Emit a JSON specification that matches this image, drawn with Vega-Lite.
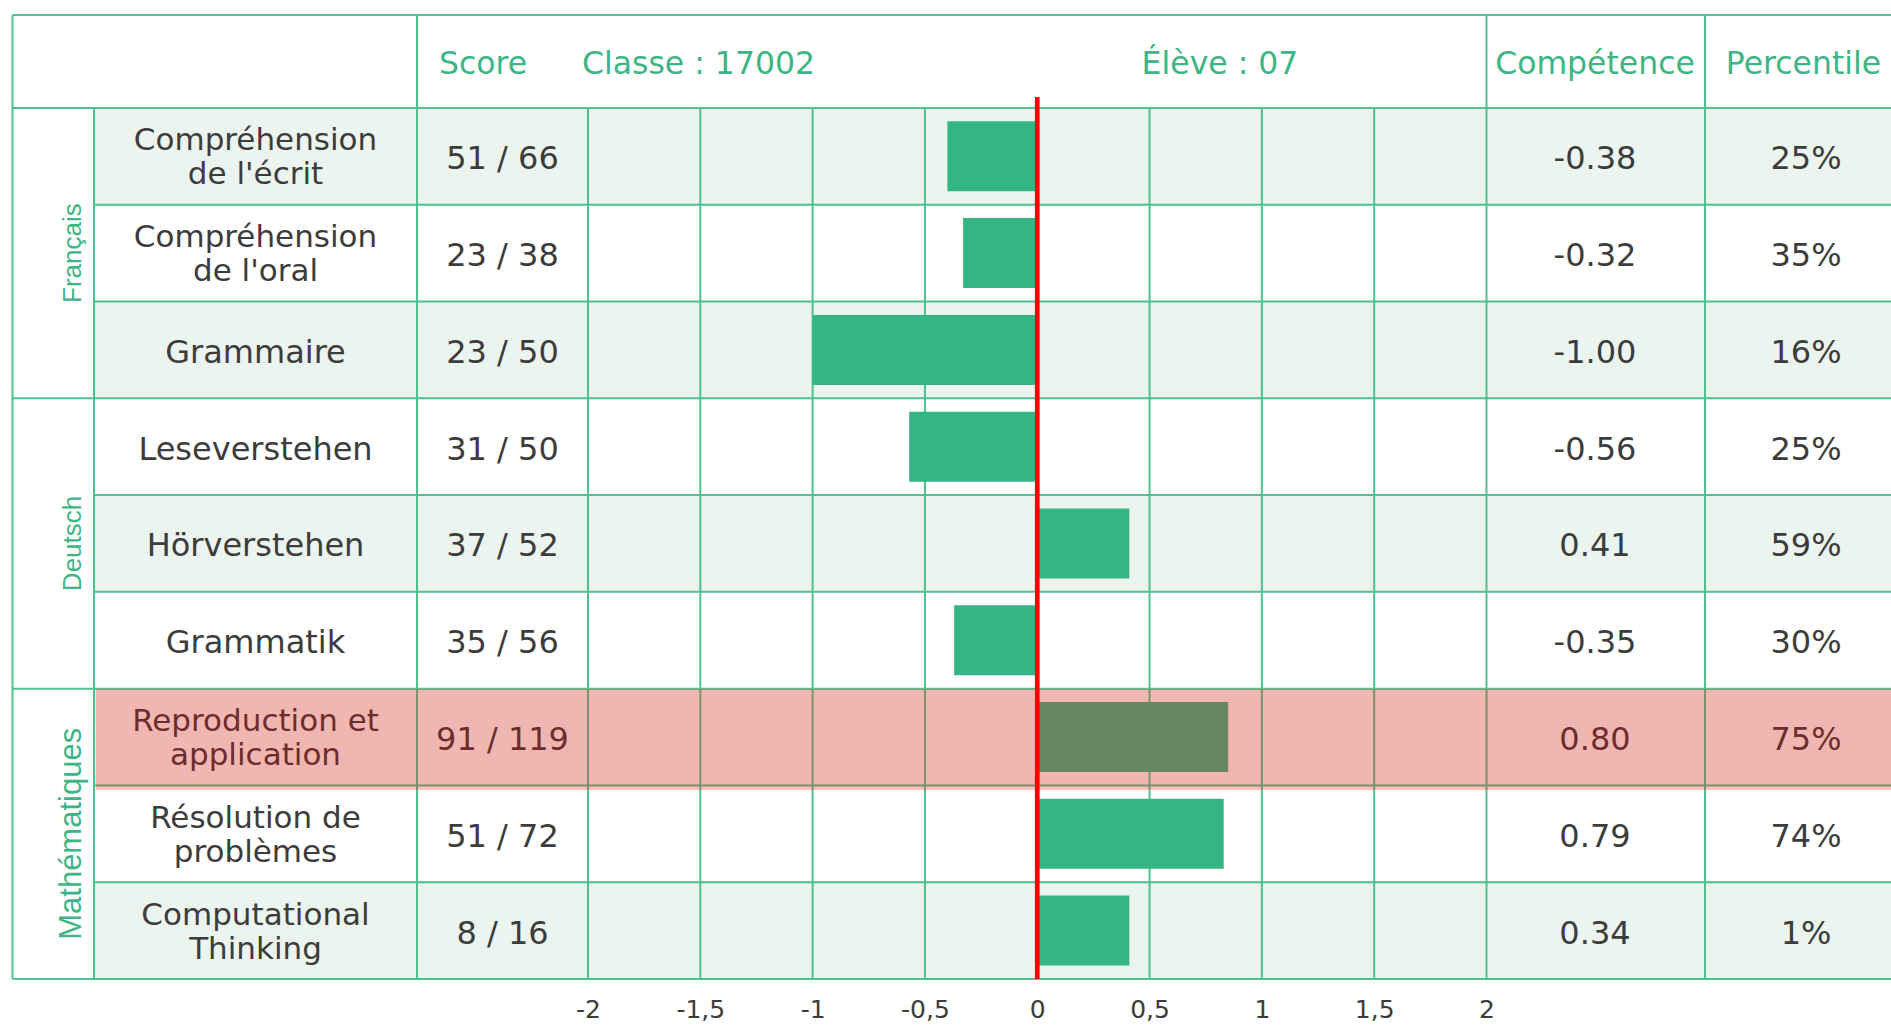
{
  "$schema": "https://vega.github.io/schema/vega-lite/v6.json",
  "width": 1891,
  "height": 984,
  "autosize": {"type": "none"},
  "padding": {"left": 0, "top": 0, "right": 0, "bottom": 41},
  "background": "white",
  "config": {"view": {"stroke": null}},
  "datasets": {
    "rows": [
      {"r": 1, "group": "Français", "label": "Compréhension\nde l'écrit", "score": "51 / 66", "bar": -0.40, "comp": "-0.38", "pct": "25%"},
      {"r": 2, "group": "Français", "label": "Compréhension\nde l'oral", "score": "23 / 38", "bar": -0.33, "comp": "-0.32", "pct": "35%"},
      {"r": 3, "group": "Français", "label": "Grammaire", "score": "23 / 50", "bar": -1.00, "comp": "-1.00", "pct": "16%"},
      {"r": 4, "group": "Deutsch", "label": "Leseverstehen", "score": "31 / 50", "bar": -0.57, "comp": "-0.56", "pct": "25%"},
      {"r": 5, "group": "Deutsch", "label": "Hörverstehen", "score": "37 / 52", "bar": 0.41, "comp": "0.41", "pct": "59%"},
      {"r": 6, "group": "Deutsch", "label": "Grammatik", "score": "35 / 56", "bar": -0.37, "comp": "-0.35", "pct": "30%"},
      {"r": 7, "group": "Mathématiques", "label": "Reproduction et\napplication", "score": "91 / 119", "bar": 0.85, "comp": "0.80", "pct": "75%"},
      {"r": 8, "group": "Mathématiques", "label": "Résolution de\nproblèmes", "score": "51 / 72", "bar": 0.83, "comp": "0.79", "pct": "74%"},
      {"r": 9, "group": "Mathématiques", "label": "Computational\nThinking", "score": "8 / 16", "bar": 0.41, "comp": "0.34", "pct": "1%"}
    ],
    "vfull": [{"x": -4.5621}, {"x": -2.7613}, {"x": 2}, {"x": 2.9727}],
    "vbody": [{"x": -4.1992}, {"x": -2}, {"x": -1.5}, {"x": -1}, {"x": -0.5}, {"x": 0}, {"x": 0.5}, {"x": 1}, {"x": 1.5}],
    "hfull": [{"y": -0.4611}, {"y": 0.5}, {"y": 3.5}, {"y": 6.5}, {"y": 9.5}],
    "hbody": [{"y": 1.5}, {"y": 2.5}, {"y": 4.5}, {"y": 5.5}, {"y": 7.5}, {"y": 8.5}],
    "one": [{}]
  },
  "layer": [
    {
      "data": {"name": "rows"},
      "transform": [{"filter": "datum.r % 2 == 1"}],
      "mark": {"type": "bar", "orient": "horizontal", "size": 97.8, "color": "#ebf4ee"},
      "encoding": {
        "x": {"datum": -4.1992, "type": "quantitative", "scale": {"type": "linear", "domain": [-4.6177, 3.8008], "nice": false, "zero": false}, "axis": {"values": [-2, -1.5, -1, -0.5, 0, 0.5, 1, 1.5, 2], "labelExpr": "(datum.value < 0 ? '-' : '') + replace(toString(abs(datum.value)), '.', ',')", "domain": false, "ticks": false, "tickSize": 0, "grid": false, "labelPadding": 33, "labelBaseline": "alphabetic", "labelFont": "DejaVu Sans", "labelFontSize": 25, "labelColor": "#3c3c3c", "title": null, "labelFlush": false, "labelOverlap": false}},
        "x2": {"datum": 3.8008},
        "y": {"field": "r", "type": "quantitative", "scale": {"type": "linear", "domain": [-0.5634, 9.5], "nice": false, "zero": false, "reverse": true}, "axis": null}
      }
    },
    {
      "data": {"name": "vfull"},
      "mark": {"type": "rule", "color": "#4fc08f", "strokeWidth": 2},
      "encoding": {
        "x": {"field": "x", "type": "quantitative", "scale": {"type": "linear", "domain": [-4.6177, 3.8008], "nice": false, "zero": false}, "axis": {"values": [-2, -1.5, -1, -0.5, 0, 0.5, 1, 1.5, 2], "labelExpr": "(datum.value < 0 ? '-' : '') + replace(toString(abs(datum.value)), '.', ',')", "domain": false, "ticks": false, "tickSize": 0, "grid": false, "labelPadding": 33, "labelBaseline": "alphabetic", "labelFont": "DejaVu Sans", "labelFontSize": 25, "labelColor": "#3c3c3c", "title": null, "labelFlush": false, "labelOverlap": false}},
        "y": {"datum": -0.4611, "type": "quantitative", "scale": {"type": "linear", "domain": [-0.5634, 9.5], "nice": false, "zero": false, "reverse": true}, "axis": null},
        "y2": {"datum": 9.5}
      }
    },
    {
      "data": {"name": "vbody"},
      "mark": {"type": "rule", "color": "#4fc08f", "strokeWidth": 2},
      "encoding": {
        "x": {"field": "x", "type": "quantitative", "scale": {"type": "linear", "domain": [-4.6177, 3.8008], "nice": false, "zero": false}, "axis": {"values": [-2, -1.5, -1, -0.5, 0, 0.5, 1, 1.5, 2], "labelExpr": "(datum.value < 0 ? '-' : '') + replace(toString(abs(datum.value)), '.', ',')", "domain": false, "ticks": false, "tickSize": 0, "grid": false, "labelPadding": 33, "labelBaseline": "alphabetic", "labelFont": "DejaVu Sans", "labelFontSize": 25, "labelColor": "#3c3c3c", "title": null, "labelFlush": false, "labelOverlap": false}},
        "y": {"datum": 0.5, "type": "quantitative", "scale": {"type": "linear", "domain": [-0.5634, 9.5], "nice": false, "zero": false, "reverse": true}, "axis": null},
        "y2": {"datum": 9.5}
      }
    },
    {
      "data": {"name": "hfull"},
      "mark": {"type": "rule", "color": "#4fc08f", "strokeWidth": 2},
      "encoding": {
        "y": {"field": "y", "type": "quantitative", "scale": {"type": "linear", "domain": [-0.5634, 9.5], "nice": false, "zero": false, "reverse": true}, "axis": null},
        "x": {"datum": -4.5621, "type": "quantitative", "scale": {"type": "linear", "domain": [-4.6177, 3.8008], "nice": false, "zero": false}, "axis": {"values": [-2, -1.5, -1, -0.5, 0, 0.5, 1, 1.5, 2], "labelExpr": "(datum.value < 0 ? '-' : '') + replace(toString(abs(datum.value)), '.', ',')", "domain": false, "ticks": false, "tickSize": 0, "grid": false, "labelPadding": 33, "labelBaseline": "alphabetic", "labelFont": "DejaVu Sans", "labelFontSize": 25, "labelColor": "#3c3c3c", "title": null, "labelFlush": false, "labelOverlap": false}},
        "x2": {"datum": 3.8008}
      }
    },
    {
      "data": {"name": "hbody"},
      "mark": {"type": "rule", "color": "#4fc08f", "strokeWidth": 2},
      "encoding": {
        "y": {"field": "y", "type": "quantitative", "scale": {"type": "linear", "domain": [-0.5634, 9.5], "nice": false, "zero": false, "reverse": true}, "axis": null},
        "x": {"datum": -4.1992, "type": "quantitative", "scale": {"type": "linear", "domain": [-4.6177, 3.8008], "nice": false, "zero": false}, "axis": {"values": [-2, -1.5, -1, -0.5, 0, 0.5, 1, 1.5, 2], "labelExpr": "(datum.value < 0 ? '-' : '') + replace(toString(abs(datum.value)), '.', ',')", "domain": false, "ticks": false, "tickSize": 0, "grid": false, "labelPadding": 33, "labelBaseline": "alphabetic", "labelFont": "DejaVu Sans", "labelFontSize": 25, "labelColor": "#3c3c3c", "title": null, "labelFlush": false, "labelOverlap": false}},
        "x2": {"datum": 3.8008}
      }
    },
    {
      "data": {"name": "rows"},
      "mark": {"type": "bar", "orient": "horizontal", "size": 70, "color": "#34b584"},
      "encoding": {
        "x": {"field": "bar", "type": "quantitative", "scale": {"type": "linear", "domain": [-4.6177, 3.8008], "nice": false, "zero": false}, "axis": {"values": [-2, -1.5, -1, -0.5, 0, 0.5, 1, 1.5, 2], "labelExpr": "(datum.value < 0 ? '-' : '') + replace(toString(abs(datum.value)), '.', ',')", "domain": false, "ticks": false, "tickSize": 0, "grid": false, "labelPadding": 33, "labelBaseline": "alphabetic", "labelFont": "DejaVu Sans", "labelFontSize": 25, "labelColor": "#3c3c3c", "title": null, "labelFlush": false, "labelOverlap": false}},
        "x2": {"datum": 0},
        "y": {"field": "r", "type": "quantitative", "scale": {"type": "linear", "domain": [-0.5634, 9.5], "nice": false, "zero": false, "reverse": true}, "axis": null}
      }
    },
    {
      "data": {"name": "rows"},
      "transform": [{"filter": "indexof(datum.label, '\\n') < 0"}],
      "mark": {"type": "text", "font": "DejaVu Sans", "fontSize": 32, "color": "#3c3c3c", "align": "center", "baseline": "middle", "dy": 3},
      "encoding": {
        "x": {"datum": -3.4802, "type": "quantitative", "scale": {"type": "linear", "domain": [-4.6177, 3.8008], "nice": false, "zero": false}, "axis": {"values": [-2, -1.5, -1, -0.5, 0, 0.5, 1, 1.5, 2], "labelExpr": "(datum.value < 0 ? '-' : '') + replace(toString(abs(datum.value)), '.', ',')", "domain": false, "ticks": false, "tickSize": 0, "grid": false, "labelPadding": 33, "labelBaseline": "alphabetic", "labelFont": "DejaVu Sans", "labelFontSize": 25, "labelColor": "#3c3c3c", "title": null, "labelFlush": false, "labelOverlap": false}},
        "y": {"field": "r", "type": "quantitative", "scale": {"type": "linear", "domain": [-0.5634, 9.5], "nice": false, "zero": false, "reverse": true}, "axis": null},
        "text": {"field": "label"}
      }
    },
    {
      "data": {"name": "rows"},
      "transform": [{"filter": "indexof(datum.label, '\\n') >= 0"}],
      "mark": {"type": "text", "font": "DejaVu Sans", "fontSize": 31, "color": "#3c3c3c", "align": "center", "baseline": "middle", "lineBreak": "\n", "lineHeight": 34, "dy": -15},
      "encoding": {
        "x": {"datum": -3.4802, "type": "quantitative", "scale": {"type": "linear", "domain": [-4.6177, 3.8008], "nice": false, "zero": false}, "axis": {"values": [-2, -1.5, -1, -0.5, 0, 0.5, 1, 1.5, 2], "labelExpr": "(datum.value < 0 ? '-' : '') + replace(toString(abs(datum.value)), '.', ',')", "domain": false, "ticks": false, "tickSize": 0, "grid": false, "labelPadding": 33, "labelBaseline": "alphabetic", "labelFont": "DejaVu Sans", "labelFontSize": 25, "labelColor": "#3c3c3c", "title": null, "labelFlush": false, "labelOverlap": false}},
        "y": {"field": "r", "type": "quantitative", "scale": {"type": "linear", "domain": [-0.5634, 9.5], "nice": false, "zero": false, "reverse": true}, "axis": null},
        "text": {"field": "label"}
      }
    },
    {
      "data": {"name": "rows"},
      "mark": {"type": "text", "font": "DejaVu Sans", "fontSize": 32, "color": "#3c3c3c", "align": "center", "baseline": "middle", "dy": 3},
      "encoding": {
        "x": {"datum": -2.3806, "type": "quantitative", "scale": {"type": "linear", "domain": [-4.6177, 3.8008], "nice": false, "zero": false}, "axis": {"values": [-2, -1.5, -1, -0.5, 0, 0.5, 1, 1.5, 2], "labelExpr": "(datum.value < 0 ? '-' : '') + replace(toString(abs(datum.value)), '.', ',')", "domain": false, "ticks": false, "tickSize": 0, "grid": false, "labelPadding": 33, "labelBaseline": "alphabetic", "labelFont": "DejaVu Sans", "labelFontSize": 25, "labelColor": "#3c3c3c", "title": null, "labelFlush": false, "labelOverlap": false}},
        "y": {"field": "r", "type": "quantitative", "scale": {"type": "linear", "domain": [-0.5634, 9.5], "nice": false, "zero": false, "reverse": true}, "axis": null},
        "text": {"field": "score"}
      }
    },
    {
      "data": {"name": "rows"},
      "mark": {"type": "text", "font": "DejaVu Sans", "fontSize": 32, "color": "#3c3c3c", "align": "center", "baseline": "middle", "dy": 3},
      "encoding": {
        "x": {"datum": 2.483, "type": "quantitative", "scale": {"type": "linear", "domain": [-4.6177, 3.8008], "nice": false, "zero": false}, "axis": {"values": [-2, -1.5, -1, -0.5, 0, 0.5, 1, 1.5, 2], "labelExpr": "(datum.value < 0 ? '-' : '') + replace(toString(abs(datum.value)), '.', ',')", "domain": false, "ticks": false, "tickSize": 0, "grid": false, "labelPadding": 33, "labelBaseline": "alphabetic", "labelFont": "DejaVu Sans", "labelFontSize": 25, "labelColor": "#3c3c3c", "title": null, "labelFlush": false, "labelOverlap": false}},
        "y": {"field": "r", "type": "quantitative", "scale": {"type": "linear", "domain": [-0.5634, 9.5], "nice": false, "zero": false, "reverse": true}, "axis": null},
        "text": {"field": "comp"}
      }
    },
    {
      "data": {"name": "rows"},
      "mark": {"type": "text", "font": "DejaVu Sans", "fontSize": 32, "color": "#3c3c3c", "align": "center", "baseline": "middle", "dy": 3},
      "encoding": {
        "x": {"datum": 3.4224, "type": "quantitative", "scale": {"type": "linear", "domain": [-4.6177, 3.8008], "nice": false, "zero": false}, "axis": {"values": [-2, -1.5, -1, -0.5, 0, 0.5, 1, 1.5, 2], "labelExpr": "(datum.value < 0 ? '-' : '') + replace(toString(abs(datum.value)), '.', ',')", "domain": false, "ticks": false, "tickSize": 0, "grid": false, "labelPadding": 33, "labelBaseline": "alphabetic", "labelFont": "DejaVu Sans", "labelFontSize": 25, "labelColor": "#3c3c3c", "title": null, "labelFlush": false, "labelOverlap": false}},
        "y": {"field": "r", "type": "quantitative", "scale": {"type": "linear", "domain": [-0.5634, 9.5], "nice": false, "zero": false, "reverse": true}, "axis": null},
        "text": {"field": "pct"}
      }
    },
    {
      "data": {"name": "one"},
      "mark": {"type": "text", "text": "Score", "font": "DejaVu Sans", "fontSize": 31.5, "color": "#3db584", "align": "center", "baseline": "middle"},
      "encoding": {
        "x": {"datum": -2.4674, "type": "quantitative", "scale": {"type": "linear", "domain": [-4.6177, 3.8008], "nice": false, "zero": false}, "axis": {"values": [-2, -1.5, -1, -0.5, 0, 0.5, 1, 1.5, 2], "labelExpr": "(datum.value < 0 ? '-' : '') + replace(toString(abs(datum.value)), '.', ',')", "domain": false, "ticks": false, "tickSize": 0, "grid": false, "labelPadding": 33, "labelBaseline": "alphabetic", "labelFont": "DejaVu Sans", "labelFontSize": 25, "labelColor": "#3c3c3c", "title": null, "labelFlush": false, "labelOverlap": false}},
        "y": {"datum": 0.0574, "type": "quantitative", "scale": {"type": "linear", "domain": [-0.5634, 9.5], "nice": false, "zero": false, "reverse": true}, "axis": null}
      }
    },
    {
      "data": {"name": "one"},
      "mark": {"type": "text", "text": "Classe : 17002", "font": "DejaVu Sans", "fontSize": 31.5, "color": "#3db584", "align": "center", "baseline": "middle"},
      "encoding": {
        "x": {"datum": -1.5081, "type": "quantitative", "scale": {"type": "linear", "domain": [-4.6177, 3.8008], "nice": false, "zero": false}, "axis": {"values": [-2, -1.5, -1, -0.5, 0, 0.5, 1, 1.5, 2], "labelExpr": "(datum.value < 0 ? '-' : '') + replace(toString(abs(datum.value)), '.', ',')", "domain": false, "ticks": false, "tickSize": 0, "grid": false, "labelPadding": 33, "labelBaseline": "alphabetic", "labelFont": "DejaVu Sans", "labelFontSize": 25, "labelColor": "#3c3c3c", "title": null, "labelFlush": false, "labelOverlap": false}},
        "y": {"datum": 0.0574, "type": "quantitative", "scale": {"type": "linear", "domain": [-0.5634, 9.5], "nice": false, "zero": false, "reverse": true}, "axis": null}
      }
    },
    {
      "data": {"name": "one"},
      "mark": {"type": "text", "text": "Élève : 07", "font": "DejaVu Sans", "fontSize": 31.5, "color": "#3db584", "align": "center", "baseline": "middle"},
      "encoding": {
        "x": {"datum": 0.8136, "type": "quantitative", "scale": {"type": "linear", "domain": [-4.6177, 3.8008], "nice": false, "zero": false}, "axis": {"values": [-2, -1.5, -1, -0.5, 0, 0.5, 1, 1.5, 2], "labelExpr": "(datum.value < 0 ? '-' : '') + replace(toString(abs(datum.value)), '.', ',')", "domain": false, "ticks": false, "tickSize": 0, "grid": false, "labelPadding": 33, "labelBaseline": "alphabetic", "labelFont": "DejaVu Sans", "labelFontSize": 25, "labelColor": "#3c3c3c", "title": null, "labelFlush": false, "labelOverlap": false}},
        "y": {"datum": 0.0574, "type": "quantitative", "scale": {"type": "linear", "domain": [-0.5634, 9.5], "nice": false, "zero": false, "reverse": true}, "axis": null}
      }
    },
    {
      "data": {"name": "one"},
      "mark": {"type": "text", "text": "Compétence", "font": "DejaVu Sans", "fontSize": 31.5, "color": "#3db584", "align": "center", "baseline": "middle"},
      "encoding": {
        "x": {"datum": 2.483, "type": "quantitative", "scale": {"type": "linear", "domain": [-4.6177, 3.8008], "nice": false, "zero": false}, "axis": {"values": [-2, -1.5, -1, -0.5, 0, 0.5, 1, 1.5, 2], "labelExpr": "(datum.value < 0 ? '-' : '') + replace(toString(abs(datum.value)), '.', ',')", "domain": false, "ticks": false, "tickSize": 0, "grid": false, "labelPadding": 33, "labelBaseline": "alphabetic", "labelFont": "DejaVu Sans", "labelFontSize": 25, "labelColor": "#3c3c3c", "title": null, "labelFlush": false, "labelOverlap": false}},
        "y": {"datum": 0.0574, "type": "quantitative", "scale": {"type": "linear", "domain": [-0.5634, 9.5], "nice": false, "zero": false, "reverse": true}, "axis": null}
      }
    },
    {
      "data": {"name": "one"},
      "mark": {"type": "text", "text": "Percentile", "font": "DejaVu Sans", "fontSize": 31.5, "color": "#3db584", "align": "center", "baseline": "middle"},
      "encoding": {
        "x": {"datum": 3.4112, "type": "quantitative", "scale": {"type": "linear", "domain": [-4.6177, 3.8008], "nice": false, "zero": false}, "axis": {"values": [-2, -1.5, -1, -0.5, 0, 0.5, 1, 1.5, 2], "labelExpr": "(datum.value < 0 ? '-' : '') + replace(toString(abs(datum.value)), '.', ',')", "domain": false, "ticks": false, "tickSize": 0, "grid": false, "labelPadding": 33, "labelBaseline": "alphabetic", "labelFont": "DejaVu Sans", "labelFontSize": 25, "labelColor": "#3c3c3c", "title": null, "labelFlush": false, "labelOverlap": false}},
        "y": {"datum": 0.0574, "type": "quantitative", "scale": {"type": "linear", "domain": [-0.5634, 9.5], "nice": false, "zero": false, "reverse": true}, "axis": null}
      }
    },
    {
      "data": {"name": "rows"},
      "transform": [{"filter": "datum.r == 2 || datum.r == 5"}],
      "mark": {"type": "text", "font": "Liberation Sans", "fontSize": 26, "color": "#3db584", "align": "center", "baseline": "alphabetic", "angle": 270},
      "encoding": {
        "x": {"datum": -4.2593, "type": "quantitative", "scale": {"type": "linear", "domain": [-4.6177, 3.8008], "nice": false, "zero": false}, "axis": {"values": [-2, -1.5, -1, -0.5, 0, 0.5, 1, 1.5, 2], "labelExpr": "(datum.value < 0 ? '-' : '') + replace(toString(abs(datum.value)), '.', ',')", "domain": false, "ticks": false, "tickSize": 0, "grid": false, "labelPadding": 33, "labelBaseline": "alphabetic", "labelFont": "DejaVu Sans", "labelFontSize": 25, "labelColor": "#3c3c3c", "title": null, "labelFlush": false, "labelOverlap": false}},
        "y": {"field": "r", "type": "quantitative", "scale": {"type": "linear", "domain": [-0.5634, 9.5], "nice": false, "zero": false, "reverse": true}, "axis": null},
        "text": {"field": "group"}
      }
    },
    {
      "data": {"name": "rows"},
      "transform": [{"filter": "datum.r == 8"}],
      "mark": {"type": "text", "font": "Liberation Sans", "fontSize": 31, "color": "#3db584", "align": "center", "baseline": "alphabetic", "angle": 270},
      "encoding": {
        "x": {"datum": -4.2593, "type": "quantitative", "scale": {"type": "linear", "domain": [-4.6177, 3.8008], "nice": false, "zero": false}, "axis": {"values": [-2, -1.5, -1, -0.5, 0, 0.5, 1, 1.5, 2], "labelExpr": "(datum.value < 0 ? '-' : '') + replace(toString(abs(datum.value)), '.', ',')", "domain": false, "ticks": false, "tickSize": 0, "grid": false, "labelPadding": 33, "labelBaseline": "alphabetic", "labelFont": "DejaVu Sans", "labelFontSize": 25, "labelColor": "#3c3c3c", "title": null, "labelFlush": false, "labelOverlap": false}},
        "y": {"field": "r", "type": "quantitative", "scale": {"type": "linear", "domain": [-0.5634, 9.5], "nice": false, "zero": false, "reverse": true}, "axis": null},
        "text": {"field": "group"}
      }
    },
    {
      "data": {"name": "one"},
      "mark": {"type": "rect", "color": "#ff0000", "opacity": 0.25},
      "encoding": {
        "x": {"datum": -4.1903, "type": "quantitative", "scale": {"type": "linear", "domain": [-4.6177, 3.8008], "nice": false, "zero": false}, "axis": {"values": [-2, -1.5, -1, -0.5, 0, 0.5, 1, 1.5, 2], "labelExpr": "(datum.value < 0 ? '-' : '') + replace(toString(abs(datum.value)), '.', ',')", "domain": false, "ticks": false, "tickSize": 0, "grid": false, "labelPadding": 33, "labelBaseline": "alphabetic", "labelFont": "DejaVu Sans", "labelFontSize": 25, "labelColor": "#3c3c3c", "title": null, "labelFlush": false, "labelOverlap": false}},
        "x2": {"datum": 3.8008},
        "y": {"datum": 6.5036, "type": "quantitative", "scale": {"type": "linear", "domain": [-0.5634, 9.5], "nice": false, "zero": false, "reverse": true}, "axis": null},
        "y2": {"datum": 7.5467}
      }
    },
    {
      "data": {"name": "one"},
      "mark": {"type": "rule", "color": "#ff0000", "strokeWidth": 4.7},
      "encoding": {
        "x": {"datum": 0, "type": "quantitative", "scale": {"type": "linear", "domain": [-4.6177, 3.8008], "nice": false, "zero": false}, "axis": {"values": [-2, -1.5, -1, -0.5, 0, 0.5, 1, 1.5, 2], "labelExpr": "(datum.value < 0 ? '-' : '') + replace(toString(abs(datum.value)), '.', ',')", "domain": false, "ticks": false, "tickSize": 0, "grid": false, "labelPadding": 33, "labelBaseline": "alphabetic", "labelFont": "DejaVu Sans", "labelFontSize": 25, "labelColor": "#3c3c3c", "title": null, "labelFlush": false, "labelOverlap": false}},
        "y": {"datum": 0.3877, "type": "quantitative", "scale": {"type": "linear", "domain": [-0.5634, 9.5], "nice": false, "zero": false, "reverse": true}, "axis": null},
        "y2": {"datum": 9.5}
      }
    }
  ]
}
